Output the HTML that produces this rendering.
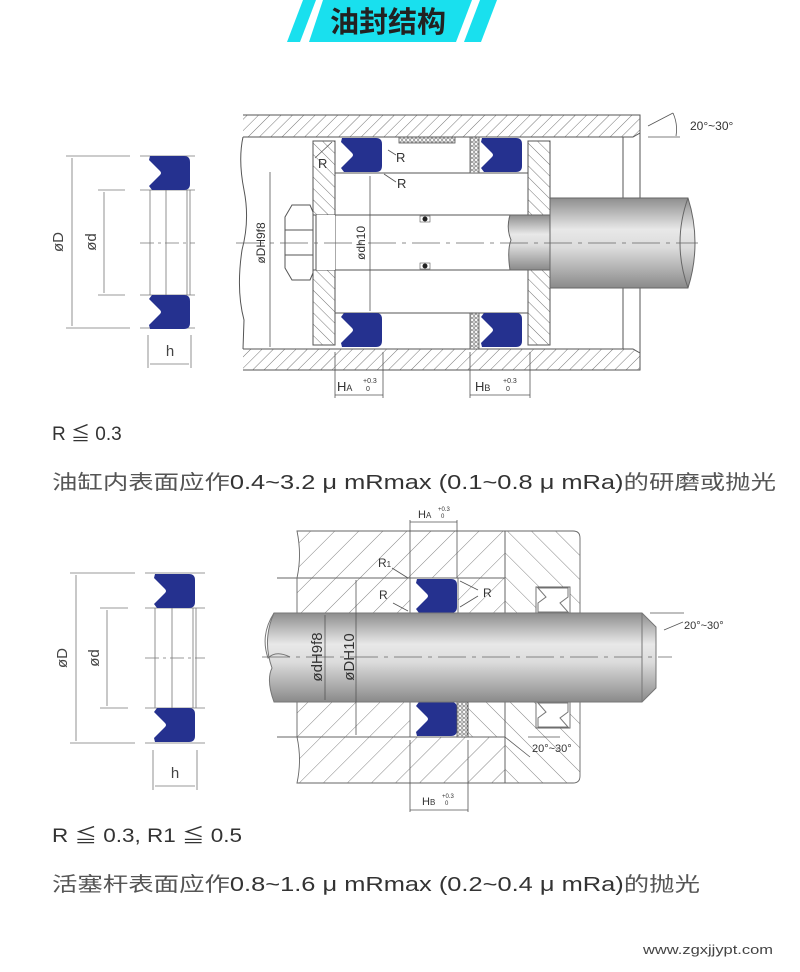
<!DOCTYPE html>
<html><head><meta charset="utf-8"><style>
html,body{margin:0;padding:0;background:#fff;}
svg{display:block;}
text{font-family:"Liberation Sans","Noto Sans CJK SC",sans-serif;}
</style></head><body>
<svg width="800" height="972" viewBox="0 0 800 972" xmlns="http://www.w3.org/2000/svg">
<defs>
<pattern id="h1" width="8" height="8" patternUnits="userSpaceOnUse" patternTransform="rotate(45)">
<line x1="0" y1="0" x2="0" y2="8" stroke="#666" stroke-width="0.9"/></pattern>
<pattern id="h1b" width="8" height="8" patternUnits="userSpaceOnUse" patternTransform="rotate(-45)">
<line x1="0" y1="0" x2="0" y2="8" stroke="#666" stroke-width="0.9"/></pattern>
<pattern id="h2" width="17" height="17" patternUnits="userSpaceOnUse" patternTransform="rotate(45)">
<line x1="0" y1="0" x2="0" y2="17" stroke="#777" stroke-width="0.9"/></pattern>
<pattern id="h2b" width="17" height="17" patternUnits="userSpaceOnUse" patternTransform="rotate(-45)">
<line x1="0" y1="0" x2="0" y2="17" stroke="#777" stroke-width="0.9"/></pattern>
<pattern id="xh" width="4" height="4" patternUnits="userSpaceOnUse">
<rect width="4" height="4" fill="#fff"/><circle cx="2" cy="2" r="1.3" fill="none" stroke="#555" stroke-width="0.7"/></pattern>
<linearGradient id="rod" x1="0" y1="0" x2="0" y2="1">
<stop offset="0" stop-color="#8e8e8e"/><stop offset="0.35" stop-color="#e8e8e8"/><stop offset="0.55" stop-color="#dcdcdc"/><stop offset="1" stop-color="#8a8a8a"/></linearGradient>
<g id="sealT"><path d="M2,1 L36,1 Q42,1 42,7 L42,29 Q42,35 36,35 L4,35 L1,31 L12,20 Q14,18 12,16 L1,5 Z" fill="#25318f"/></g>
<g id="sealB"><path d="M2,34 L36,34 Q42,34 42,28 L42,6 Q42,0 36,0 L4,0 L1,4 L12,15 Q14,17 12,19 L1,30 Z" fill="#25318f"/></g>
</defs>

<!-- Title -->
<polygon points="303,0 316,0 300,42 287,42" fill="#19e0ee"/>
<polygon points="323,0 472,0 456,42 309,42" fill="#19e0ee"/>
<polygon points="480,0 497,0 481,42 464,42" fill="#19e0ee"/>
<text x="388" y="32" font-size="29" font-weight="bold" fill="#222" text-anchor="middle">油封结构</text>

<!-- ===== Small seal icon 1 ===== -->
<g stroke="#777" stroke-width="0.8" fill="none">
<line x1="66" y1="156" x2="130" y2="156"/><line x1="140" y1="156" x2="195" y2="156"/>
<line x1="66" y1="328" x2="130" y2="328"/><line x1="140" y1="328" x2="195" y2="328"/>
<line x1="98" y1="190" x2="125" y2="190"/><line x1="140" y1="190" x2="195" y2="190"/>
<line x1="98" y1="295" x2="125" y2="295"/><line x1="140" y1="295" x2="195" y2="295"/>
<line x1="72" y1="158" x2="72" y2="326"/><line x1="104" y1="192" x2="104" y2="293"/>
<line x1="150" y1="190" x2="150" y2="295"/><line x1="166" y1="190" x2="166" y2="295"/>
<line x1="187" y1="190" x2="187" y2="295"/><line x1="190" y1="190" x2="190" y2="295"/>
<line x1="140" y1="243" x2="195" y2="243" stroke-dasharray="14,4,3,4"/>
<line x1="148" y1="335" x2="148" y2="368"/><line x1="191" y1="335" x2="191" y2="368"/>
<line x1="150" y1="364" x2="189" y2="364"/>
</g>
<use href="#sealT" x="148" y="155"/><use href="#sealB" x="148" y="295"/>
<text transform="translate(63,242) rotate(-90)" font-size="15" fill="#444" text-anchor="middle">øD</text>
<text transform="translate(96,242) rotate(-90)" font-size="15" fill="#444" text-anchor="middle">ød</text>
<text x="170" y="356" font-size="15" fill="#444" text-anchor="middle">h</text>

<!-- ===== Drawing 1: cylinder ===== -->
<g stroke="#555" stroke-width="1">
<path d="M243,115 L640,115 L640,133 L633,137 L243,137" fill="url(#h1)"/>
<path d="M243,349 L633,349 L640,353 L640,370 L243,370" fill="url(#h1)"/>
<path d="M243,137 Q238,160 244,190 Q250,220 242,250 Q236,290 244,320 L243,349" fill="none"/>
<line x1="623" y1="137" x2="623" y2="349"/><line x1="640" y1="133" x2="640" y2="353"/>
<!-- left plate -->
<path d="M313,141 L335,141 L335,345 L313,345 Z" fill="url(#h1b)"/>
<!-- right plate -->
<path d="M528,141 L550,141 L550,345 L528,345 Z" fill="url(#h1b)"/>
<line x1="335" y1="173" x2="528" y2="173"/><line x1="335" y1="313" x2="528" y2="313"/>
<line x1="315" y1="215" x2="550" y2="215"/><line x1="315" y1="270" x2="550" y2="270"/>
</g>
<rect x="313" y="215" width="22" height="55" fill="#fff"/>
<rect x="310" y="215" width="6" height="55" fill="#fff" stroke="#555"/>
<!-- nut -->
<path d="M292,205 L310,205 L313,212 L313,273 L310,280 L292,280 L285,268 L285,217 Z" fill="#fff" stroke="#555"/>
<line x1="285" y1="230" x2="313" y2="230" stroke="#555"/><line x1="285" y1="255" x2="313" y2="255" stroke="#555"/>
<!-- seals -->
<use href="#sealT" x="340" y="137"/><use href="#sealB" x="340" y="313"/>
<use href="#sealT" x="480" y="137"/><use href="#sealB" x="480" y="313"/>
<rect x="470" y="137" width="9" height="36" fill="url(#xh)" stroke="#555" stroke-width="0.8"/>
<rect x="470" y="313" width="9" height="36" fill="url(#xh)" stroke="#555" stroke-width="0.8"/>
<rect x="399" y="137" width="56" height="6" fill="url(#xh)" stroke="#555" stroke-width="0.8"/>
<!-- small O rings -->
<rect x="420" y="216" width="10" height="6" fill="#fff" stroke="#555" stroke-width="0.6"/><circle cx="425" cy="219" r="2.5" fill="#222"/>
<rect x="420" y="263" width="10" height="6" fill="#fff" stroke="#555" stroke-width="0.6"/><circle cx="425" cy="266" r="2.5" fill="#222"/>
<!-- rod -->
<path d="M510,215 L552,215 L552,270 L510,270 Q507,250 511,240 Q506,228 510,215 Z" fill="url(#rod)" stroke="#666"/>
<path d="M550,198 L688,198 Q695,220 695,243 Q695,266 688,288 L550,288 Z" fill="url(#rod)" stroke="#666"/>
<path d="M688,198 Q680,220 680,243 Q680,266 688,288" fill="none" stroke="#666"/>
<line x1="236" y1="243" x2="698" y2="243" stroke="#666" stroke-width="0.8" stroke-dasharray="28,6,4,6"/>
<!-- dims -->
<g stroke="#555" stroke-width="0.8">
<line x1="270" y1="172" x2="270" y2="347"/><line x1="370" y1="176" x2="370" y2="311"/>
<line x1="335" y1="352" x2="335" y2="398"/><line x1="383" y1="352" x2="383" y2="398"/>
<line x1="335" y1="395" x2="383" y2="395"/>
<line x1="470" y1="352" x2="470" y2="398"/><line x1="530" y1="352" x2="530" y2="398"/>
<line x1="470" y1="395" x2="530" y2="395"/>
<line x1="648" y1="137" x2="680" y2="137"/><line x1="648" y1="126" x2="673" y2="113"/>
<path d="M673,113 Q678,124 676,136" fill="none"/>
<line x1="315" y1="158" x2="332" y2="142"/><line x1="388" y1="150" x2="396" y2="155"/><line x1="384" y1="174" x2="396" y2="182"/>
</g>
<text transform="translate(265,243) rotate(-90)" font-size="12" fill="#333" text-anchor="middle">øDH9f8</text>
<text transform="translate(365,243) rotate(-90)" font-size="12" fill="#333" text-anchor="middle">ødh10</text>
<text x="318" y="168" font-size="13" fill="#333">R</text>
<text x="396" y="162" font-size="13" fill="#333">R</text>
<text x="397" y="188" font-size="13" fill="#333">R</text>
<text x="337" y="391" font-size="13" fill="#333">H<tspan font-size="9">A</tspan></text>
<text x="363" y="383" font-size="7" fill="#333">+0.3</text><text x="366" y="391" font-size="7" fill="#333">0</text>
<text x="475" y="391" font-size="13" fill="#333">H<tspan font-size="9">B</tspan></text>
<text x="503" y="383" font-size="7" fill="#333">+0.3</text><text x="506" y="391" font-size="7" fill="#333">0</text>
<text x="690" y="130" font-size="12" fill="#333">20°~30°</text>

<!-- Notes 1 -->
<text x="52" y="440" font-size="19" fill="#333">R ≦ 0.3</text>
<text x="52" y="489" font-size="20" fill="#555" textLength="724" lengthAdjust="spacingAndGlyphs">油缸内表面应作<tspan fill="#333">0.4~3.2 μ mRmax (0.1~0.8 μ mRa)</tspan>的研磨或抛光</text>

<!-- ===== Small seal icon 2 ===== -->
<g stroke="#777" stroke-width="0.8" fill="none">
<line x1="70" y1="573" x2="135" y2="573"/><line x1="145" y1="573" x2="205" y2="573"/>
<line x1="70" y1="743" x2="135" y2="743"/><line x1="145" y1="743" x2="205" y2="743"/>
<line x1="100" y1="608" x2="128" y2="608"/><line x1="145" y1="608" x2="205" y2="608"/>
<line x1="100" y1="708" x2="128" y2="708"/><line x1="145" y1="708" x2="205" y2="708"/>
<line x1="76" y1="575" x2="76" y2="741"/><line x1="107" y1="610" x2="107" y2="706"/>
<line x1="155" y1="608" x2="155" y2="708"/><line x1="172" y1="608" x2="172" y2="708"/>
<line x1="193" y1="608" x2="193" y2="708"/><line x1="196" y1="608" x2="196" y2="708"/>
<line x1="145" y1="658" x2="205" y2="658" stroke-dasharray="14,4,3,4"/>
<line x1="153" y1="750" x2="153" y2="790"/><line x1="197" y1="750" x2="197" y2="790"/>
<line x1="155" y1="786" x2="195" y2="786"/>
</g>
<use href="#sealT" x="153" y="573"/><use href="#sealB" x="153" y="708"/>
<text transform="translate(67,658) rotate(-90)" font-size="15" fill="#444" text-anchor="middle">øD</text>
<text transform="translate(99,658) rotate(-90)" font-size="15" fill="#444" text-anchor="middle">ød</text>
<text x="175" y="778" font-size="15" fill="#444" text-anchor="middle">h</text>

<!-- ===== Drawing 2: rod seal ===== -->
<g stroke="#666" stroke-width="0.9">
<path d="M297,531 L505,531 L505,578 L297,578 Q302,555 297,531 Z" fill="url(#h2)"/>
<path d="M297,578 L410,578 L410,613 L297,613 Z" fill="url(#h2)"/>
<path d="M458,578 L505,578 L505,613 L458,613 Z" fill="url(#h2)"/>
<path d="M505,531 L573,531 Q580,531 580,538 L580,613 L570,613 L570,587 L536,587 L536,613 L505,613 Z" fill="url(#h2b)"/>
<path d="M297,702 L410,702 L410,737 L297,737 Z" fill="url(#h2)"/>
<path d="M468,702 L505,702 L505,737 L468,737 Z" fill="url(#h2b)"/>
<path d="M297,737 L505,737 L505,783 L297,783 Q302,760 297,737 Z" fill="url(#h2)"/>
<path d="M505,702 L536,702 L536,728 L570,728 L570,702 L580,702 L580,776 Q580,783 573,783 L505,783 Z" fill="url(#h2b)"/>
<line x1="505" y1="531" x2="505" y2="783"/>
<line x1="277" y1="578" x2="410" y2="578"/><line x1="277" y1="737" x2="410" y2="737"/>
</g>
<rect x="297" y="702" width="56" height="14" fill="#fff" opacity="0.0"/>
<!-- wipers -->
<path d="M538,588 L568,588 L568,597 L560,603 L568,612 L538,612 L538,603 L546,597 Z" fill="#fff" stroke="#777"/>
<path d="M538,703 L568,703 L568,712 L560,718 L568,727 L538,727 L538,718 L546,712 Z" fill="#fff" stroke="#777"/>
<!-- seals -->
<use href="#sealT" x="415" y="578"/><use href="#sealB" x="415" y="702"/>
<rect x="457" y="702" width="11" height="35" fill="url(#xh)" stroke="#555" stroke-width="0.8"/>
<!-- rod -->
<path d="M274,613 L642,613 L656,627 L656,688 L642,702 L274,702 Q266,680 272,668 Q262,640 274,613 Z" fill="url(#rod)" stroke="#777"/>
<line x1="642" y1="613" x2="642" y2="702" stroke="#777"/>
<path d="M274,613 Q260,635 268,658 Q276,650 290,657" fill="none" stroke="#777"/>
<line x1="262" y1="657" x2="672" y2="657" stroke="#666" stroke-width="0.8" stroke-dasharray="28,6,4,6"/>
<!-- dims -->
<g stroke="#555" stroke-width="0.8">
<line x1="325" y1="615" x2="325" y2="700"/><line x1="356" y1="580" x2="356" y2="735"/>
<line x1="410" y1="520" x2="410" y2="578"/><line x1="457" y1="520" x2="457" y2="578"/>
<line x1="410" y1="522" x2="457" y2="522"/>
<line x1="410" y1="740" x2="410" y2="812"/><line x1="468" y1="740" x2="468" y2="812"/>
<line x1="410" y1="810" x2="468" y2="810"/>
<line x1="392" y1="568" x2="408" y2="578"/><line x1="393" y1="603" x2="408" y2="611"/>
<line x1="460" y1="581" x2="478" y2="590"/><line x1="460" y1="607" x2="478" y2="596"/>
<line x1="650" y1="613" x2="684" y2="613"/><line x1="664" y1="630" x2="683" y2="622"/>
<line x1="505" y1="737" x2="530" y2="757"/><line x1="528" y1="737" x2="560" y2="737"/>
</g>
<text transform="translate(322,657) rotate(-90)" font-size="15" fill="#333" text-anchor="middle">ødH9f8</text>
<text transform="translate(354,657) rotate(-90)" font-size="15" fill="#333" text-anchor="middle">øDH10</text>
<text x="378" y="567" font-size="12" fill="#333">R<tspan font-size="8">1</tspan></text>
<text x="379" y="599" font-size="12" fill="#333">R</text>
<text x="483" y="597" font-size="12" fill="#333">R</text>
<text x="418" y="518" font-size="11" fill="#333">H<tspan font-size="8">A</tspan></text>
<text x="438" y="511" font-size="6" fill="#333">+0.3</text><text x="441" y="518" font-size="6" fill="#333">0</text>
<text x="422" y="805" font-size="11" fill="#333">H<tspan font-size="8">B</tspan></text>
<text x="442" y="798" font-size="6" fill="#333">+0.3</text><text x="445" y="805" font-size="6" fill="#333">0</text>
<text x="684" y="629" font-size="11" fill="#333">20°~30°</text>
<text x="532" y="752" font-size="11" fill="#333">20°~30°</text>

<!-- Notes 2 -->
<text x="52" y="842" font-size="19" fill="#333" textLength="190" lengthAdjust="spacingAndGlyphs">R ≦ 0.3, R1 ≦ 0.5</text>
<text x="52" y="891" font-size="20" fill="#555" textLength="648" lengthAdjust="spacingAndGlyphs">活塞杆表面应作<tspan fill="#333">0.8~1.6 μ mRmax (0.2~0.4 μ mRa)</tspan>的抛光</text>

<text x="643" y="954" font-size="13" fill="#444" font-family="Liberation Mono, monospace" textLength="130" lengthAdjust="spacingAndGlyphs">www.zgxjjypt.com</text>
</svg>
</body></html>
